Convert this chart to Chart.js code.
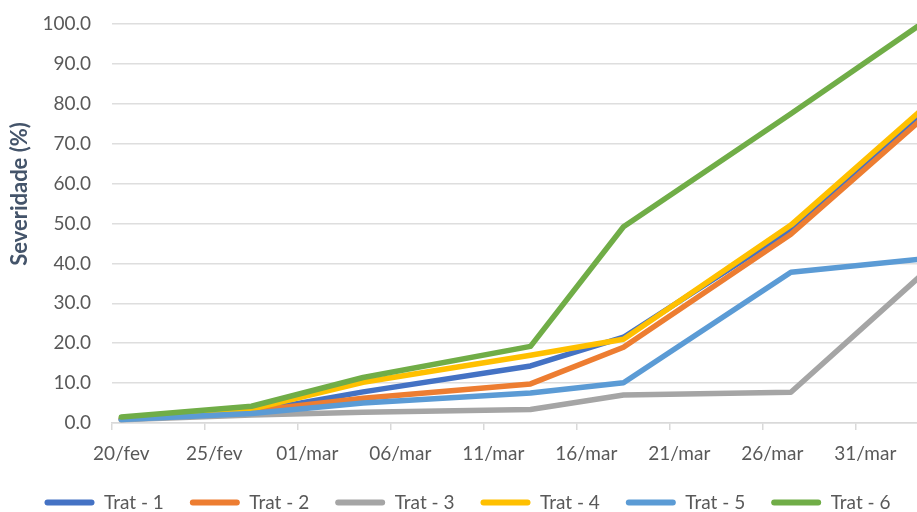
<!DOCTYPE html>
<html>
<head>
  <meta charset="utf-8">
  <script src="https://cdn.jsdelivr.net/npm/chart.js@4.4.0/dist/chart.umd.min.js"></script>
  <style>
    html, body { margin: 0; padding: 0; background: #fff; overflow: hidden; }
    #box { width: 917px; height: 512px; }
  </style>
</head>
<body>
  <div id="box"><canvas id="grafico"></canvas></div>

  <script type="text/javascript">
    // dias de avaliacao, contados a partir de 20/fev
    var dias = [0, 7, 13, 22, 27, 36, 43];

    // severidade (%) por tratamento
    var trat1 = [1.0, 2.8, 7.8, 14.3, 21.5, 48.5, 77.0];
    var trat2 = [1.0, 3.0, 6.2, 9.8, 19.0, 47.3, 76.0];
    var trat3 = [0.8, 2.0, 2.7, 3.4, 7.0, 7.7, 37.0];
    var trat4 = [1.2, 3.5, 10.2, 17.0, 21.0, 49.6, 78.4];
    var trat5 = [0.9, 2.4, 5.0, 7.5, 10.1, 37.8, 41.1];
    var trat6 = [1.5, 4.2, 11.4, 19.2, 49.2, 77.5, 100.0];

    var nomes = ['Trat - 1', 'Trat - 2', 'Trat - 3', 'Trat - 4', 'Trat - 5', 'Trat - 6'];
    var cores = ['#4472c4', '#ed7d31', '#a5a5a5', '#ffc000', '#5b9bd5', '#70ad47'];
    var series = [trat1, trat2, trat3, trat4, trat5, trat6];

    // rotulos do eixo x, um a cada 5 dias
    var rotulosX = ['20/fev', '25/fev', '01/mar', '06/mar', '11/mar', '16/mar', '21/mar', '26/mar', '31/mar'];

    var pxDia = 805 / 43.28;

    var tituloY = {
      id: 'tituloY',
      afterDraw: function(chart) {
        var c = chart.ctx;
        c.save();
        c.translate(20, 194);
        c.rotate(-Math.PI / 2);
        c.font = 'bold 22px Lato';
        c.fillStyle = '#44546a';
        c.textAlign = 'center';
        c.textBaseline = 'middle';
        c.fillText('Severidade (%)', 0, 0);
        c.restore();
      }
    };

    var datasets = series.map(function(s, i) {
      return {
        label: nomes[i],
        data: s.map(function(v, j) { return {x: dias[j], y: v}; }),
        borderColor: cores[i],
        backgroundColor: cores[i],
        borderWidth: 5.5,
        borderJoinStyle: 'round',
        borderCapStyle: 'round',
        pointRadius: 0,
        tension: 0,
        fill: false,
        order: 6 - i
      };
    });

    var ctx = document.getElementById('grafico').getContext('2d');
    var chart = new Chart(ctx, {
      type: 'line',
      data: { datasets: datasets },
      plugins: [tituloY],
      options: {
        responsive: true,
        maintainAspectRatio: false,
        animation: false,
        layout: { padding: { top: 0, right: 0, bottom: -10, left: 18 } },
        plugins: {
          tooltip: { enabled: false },
          legend: {
            position: 'bottom',
            labels: {
              boxWidth: 50,
              boxHeight: 6,
              padding: 26,
              color: '#595959',
              font: { family: 'Lato', size: 19 },
              useBorderRadius: true,
              borderRadius: 3,
              generateLabels: function(chart) {
                var itens = Chart.defaults.plugins.legend.labels.generateLabels(chart);
                itens.forEach(function(it) {
                  it.lineWidth = 0;
                  it.fillStyle = it.strokeStyle;
                });
                return itens.sort(function(a, b) { return a.datasetIndex - b.datasetIndex; });
              }
            }
          }
        },
        scales: {
          x: {
            type: 'linear',
            min: -0.5,
            max: 42.78,
            afterBuildTicks: function(scale) {
              scale.ticks = rotulosX.map(function(r, i) { return {value: i * 5 - 0.5}; });
            },
            afterFit: function(scale) { scale.height = 44; },
            ticks: {
              autoSkip: false,
              maxRotation: 0,
              padding: 12,
              labelOffset: pxDia / 2,
              color: '#595959',
              font: { family: 'Lato', size: 19 },
              callback: function(value, index) { return rotulosX[index]; }
            },
            grid: {
              drawOnChartArea: false,
              drawTicks: true,
              tickLength: 7,
              color: '#d9d9d9',
              lineWidth: 1.5
            },
            border: { display: true, color: '#d9d9d9', width: 1.5 }
          },
          y: {
            min: 0,
            max: 100,
            afterFit: function(scale) {
              scale.width = 94;
              scale.paddingTop = 24;
              scale.paddingBottom = 0;
            },
            ticks: {
              stepSize: 10,
              padding: 21,
              color: '#595959',
              font: { family: 'Lato', size: 19 },
              callback: function(v) { return v.toFixed(1); }
            },
            grid: { drawTicks: false, color: '#dedede', lineWidth: 1.5 },
            border: { display: false }
          }
        }
      }
    });
  </script>
</body>
</html>
